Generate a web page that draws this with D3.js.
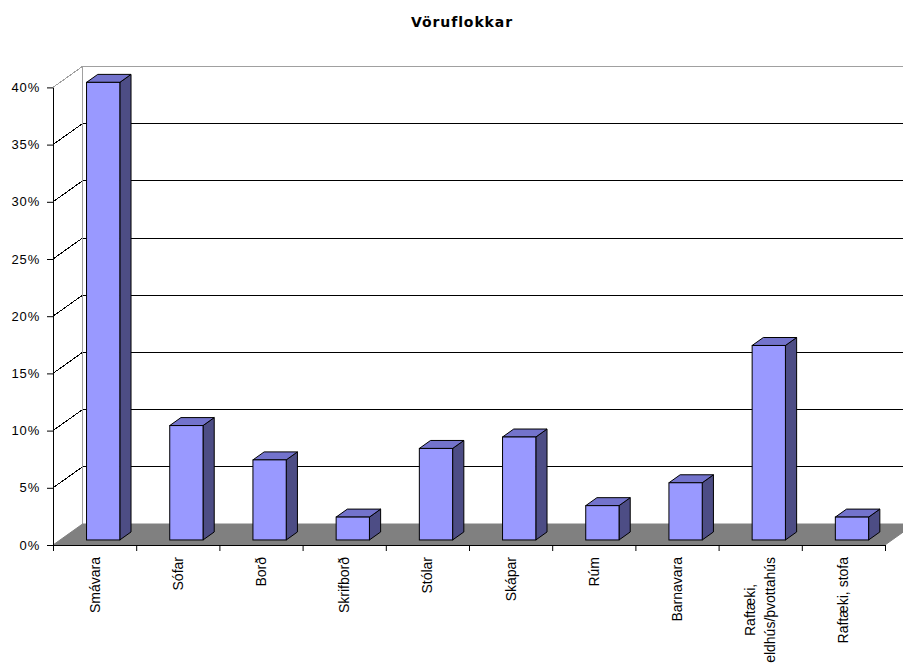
<!DOCTYPE html>
<html>
<head>
<meta charset="utf-8">
<script src="https://cdn.jsdelivr.net/npm/d3@7"></script>
<style>
  html, body { margin: 0; padding: 0; background: #ffffff; }
  svg { display: block; }
</style>
</head>
<body>
<svg id="chart" width="903" height="670"></svg>
<script>
// ---- data ----
const title = "Vöruflokkar";
const categories = ["Smávara", "Sófar", "Borð", "Skrifborð", "Stólar", "Skápar", "Rúm", "Barnavara", "Raftæki, eldhús/þvottahús", "Raftæki, stofa"];
const categoryLines = [["Smávara"], ["Sófar"], ["Borð"], ["Skrifborð"], ["Stólar"], ["Skápar"], ["Rúm"], ["Barnavara"], ["Raftæki,", "eldhús/þvottahús"], ["Raftæki, stofa"]];
const values = [40, 10, 7, 2, 8, 9, 3, 5, 17, 2];
const yTicks = [0, 5, 10, 15, 20, 25, 30, 35, 40];
const yTickLabels = ["0%", "5%", "10%", "15%", "20%", "25%", "30%", "35%", "40%"];

// ---- layout ----
const svg = d3.select("#chart");
const X0 = 53, X1 = 885, Y0 = 545, Y40 = 87.4;
const DX = 29.5, DY = -21;          // depth offset of the back wall
const T0 = 0.24, T1 = 0.62;         // bar depth range (fraction of full depth)

const x = d3.scaleBand().domain(categories).range([X0, X1]).paddingInner(0).paddingOuter(0);
const xb = d3.scaleLinear().domain([0, categories.length]).range([X0, X1]);
const y = d3.scaleLinear().domain([0, 40]).range([Y0, Y40]);

// title
svg.append("text")
  .attr("x", 462).attr("y", 27)
  .attr("text-anchor", "middle")
  .attr("font-family", "DejaVu Sans, sans-serif")
  .attr("font-weight", "bold")
  .attr("font-size", 14)
  .attr("letter-spacing", 0.9)
  .attr("fill", "#000")
  .text(title);

// back wall (white)
const wallRight = X1 + DX;
svg.append("rect")
  .attr("x", X0 + DX).attr("y", y(40) + DY)
  .attr("width", wallRight - (X0 + DX)).attr("height", y(0) - y(40))
  .attr("fill", "#fff");

// gridlines (side wall diagonal + back wall)
yTicks.filter(v => v > 0).forEach(v => {
  const p = d3.path();
  p.moveTo(X0, y(v));
  p.lineTo(X0 + DX, y(v) + DY);
  p.lineTo(wallRight, y(v) + DY);
  svg.append("path").attr("d", p.toString())
    .attr("fill", "none")
    .attr("stroke", v === 40 ? "#a0a0a0" : "#000")
    .attr("stroke-width", 1)
    .attr("shape-rendering", "crispEdges");
});
// back wall left edge
svg.append("line")
  .attr("x1", X0 + DX).attr("x2", X0 + DX)
  .attr("y1", y(40) + DY).attr("y2", y(0) + DY)
  .attr("stroke", "#a0a0a0").attr("stroke-width", 1);

// floor
svg.append("polygon")
  .attr("points", [[X0, y(0)], [X1, y(0)], [X1 + DX, y(0) + DY], [X0 + DX, y(0) + DY]].map(p => p.join(",")).join(" "))
  .attr("fill", "#808080")
  .attr("stroke", "#808080").attr("stroke-width", 1);

// bars
const bw = x.bandwidth();
const barW = bw * 0.4;
const bars = svg.append("g");
categories.forEach((c, i) => {
  const v = values[i];
  const cx = x(c) + bw / 2 + 1.5 + DX * T0;
  const xl = cx - barW / 2, xr = cx + barW / 2;
  const yb = y(0) + DY * T0;
  const yt = y(v) + DY * T0;
  const ddx = DX * (T1 - T0), ddy = DY * (T1 - T0);
  const g = bars.append("g");
  g.append("polygon")
    .attr("points", [[xr, yb], [xr + ddx, yb + ddy], [xr + ddx, yt + ddy], [xr, yt]].map(p => p.join(",")).join(" "))
    .attr("fill", "#4d4d85").attr("stroke", "#000").attr("stroke-width", 1).attr("stroke-linejoin", "round");
  g.append("polygon")
    .attr("points", [[xl, yt], [xr, yt], [xr + ddx, yt + ddy], [xl + ddx, yt + ddy]].map(p => p.join(",")).join(" "))
    .attr("fill", "#7373cc").attr("stroke", "#000").attr("stroke-width", 1).attr("stroke-linejoin", "round");
  g.append("rect")
    .attr("x", xl).attr("y", yt).attr("width", barW).attr("height", yb - yt)
    .attr("fill", "#9999ff").attr("stroke", "#000").attr("stroke-width", 1);
});

// y axis
const yAxis = d3.axisLeft(y)
  .tickValues(yTicks)
  .tickFormat((d, i) => yTickLabels[i])
  .tickSize(6).tickSizeOuter(0).tickPadding(7);
const gy = svg.append("g").attr("transform", `translate(${X0},0)`).call(yAxis);
gy.select(".domain").attr("stroke", "#000");
gy.selectAll(".tick line").attr("stroke", "#000");
gy.selectAll(".tick text")
  .attr("font-family", "Liberation Sans, Arial, sans-serif")
  .attr("font-size", 13)
  .attr("letter-spacing", 0.8)
  .attr("fill", "#000");

// x axis (ticks at category boundaries)
const xAxis = d3.axisBottom(xb)
  .tickValues(d3.range(categories.length + 1))
  .tickFormat("")
  .tickSize(6).tickSizeOuter(0);
const gx = svg.append("g").attr("transform", `translate(0,${Y0})`).call(xAxis);
gx.select(".domain").attr("stroke", "#000");
gx.selectAll(".tick line").attr("stroke", "#000");

// category labels (rotated)
const LABEL_TOP = 557, LINE_GAP = 20;
categories.forEach((c, i) => {
  const lines = categoryLines[i];
  const cx = x(c) + bw / 2;
  const g = svg.append("g");
  const texts = lines.map((ln, j) => {
    const off = (j - (lines.length - 1) / 2) * LINE_GAP;
    return g.append("text")
      .attr("font-family", "Liberation Sans, Arial, sans-serif")
      .attr("font-size", 14)
      .attr("fill", "#000")
      .attr("dominant-baseline", "central")
      .attr("text-anchor", "middle")
      .attr("data-off", off)
      .text(ln);
  });
  const lens = texts.map(t => t.node().getComputedTextLength());
  const maxLen = d3.max(lens);
  const centerY = LABEL_TOP + maxLen / 2;
  texts.forEach((t) => {
    const off = +t.attr("data-off");
    t.attr("transform", `translate(${cx + off},${centerY}) rotate(-90)`);
  });
});
</script>
</body>
</html>
